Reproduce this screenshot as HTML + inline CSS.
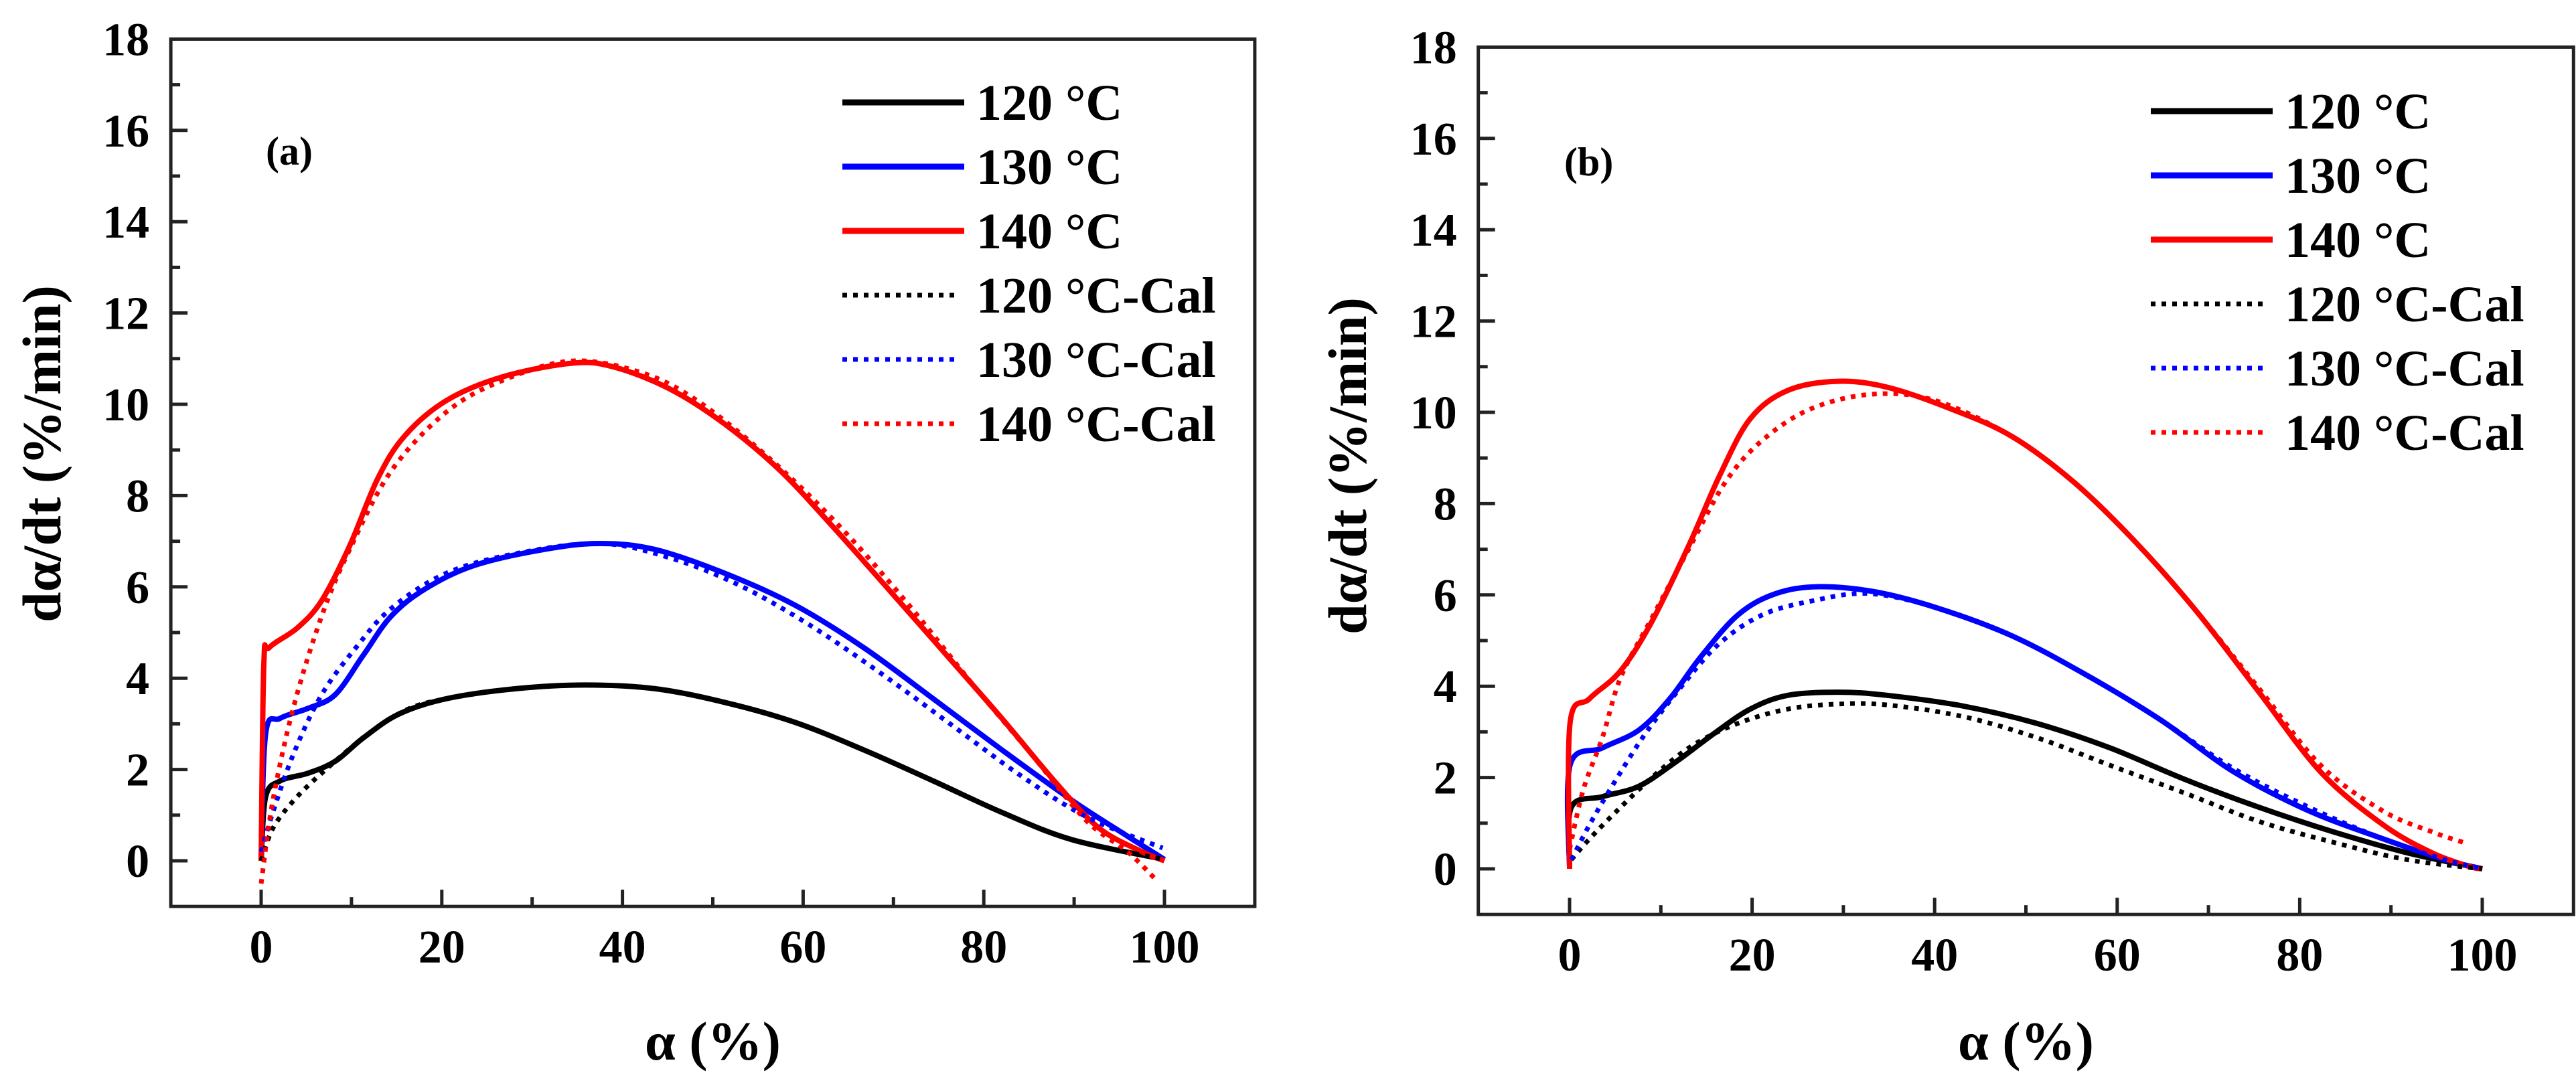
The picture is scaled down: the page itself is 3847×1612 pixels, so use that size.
<!DOCTYPE html>
<html><head><meta charset="utf-8"><style>
html,body{margin:0;padding:0;background:#fff;}
svg{display:block;}
text{font-family:"Liberation Serif",serif;font-weight:bold;fill:#000;}
</style></head><body>
<svg id="fig" width="3847" height="1612" viewBox="0 0 3847 1612" xmlns="http://www.w3.org/2000/svg"></svg>
<script>
// ---- data (panel a) ----
const a_120_x=[0,0.5,2.1,5.2,8.2,11.3,15.2,20.5,28.2,35.9,43.6,51.3,59,66.7,74.4,82,89.8,100];
const a_120_y=[0,1.4,1.75,1.92,2.18,2.69,3.21,3.55,3.77,3.85,3.77,3.47,3.04,2.43,1.75,1.06,0.46,0.03];
const a_130_x=[0,0.5,2.1,5.2,8.2,11.3,14.4,18.2,23.6,31.3,37.5,43.6,51.3,59,66.7,74.4,82,89.8,95.9,100];
const a_130_y=[0,2.78,3.12,3.34,3.64,4.5,5.36,5.96,6.47,6.82,6.95,6.82,6.3,5.61,4.67,3.55,2.43,1.32,0.54,0.03];
const a_140_x=[0,0.3,0.9,4,6.7,9.8,12.9,15.9,20.5,26.7,34.4,39,45.2,51.3,57.5,63.6,69.8,75.9,82,88.2,92.8,97.5,100];
const a_140_y=[0,4.3,4.67,5.1,5.7,6.9,8.37,9.31,10.08,10.6,10.9,10.82,10.34,9.57,8.54,7.25,5.87,4.5,3.12,1.66,0.71,0.2,0];
const a_120c_x=[0,1.3,3.6,6.7,11.3,15.9,20.5,28.2,35.9,43.6,51.3,59,66.7,74.4,82,89.8,100];
const a_120c_y=[0,0.71,1.32,1.92,2.69,3.29,3.55,3.77,3.85,3.77,3.47,3.04,2.43,1.75,1.06,0.46,0.03];
const a_130c_x=[0,1.3,3.6,6.7,10.5,14.4,20.5,28.2,37.5,45.2,52.9,60.6,68.3,76,83.7,91.3,99.8];
const a_130c_y=[0.2,1.06,2.35,3.64,4.67,5.53,6.3,6.73,6.95,6.64,6.04,5.18,4.15,3.04,1.92,0.97,0.28];
const a_140c_x=[0,1.3,3.6,6.7,9.8,14.4,20.5,26.7,34.4,42,48.2,55.9,63.6,71.3,79,85.2,91.3,95.9,99];
const a_140c_y=[-0.5,1.32,3.38,5.36,6.82,8.54,9.83,10.52,10.95,10.7,10.09,8.88,7.42,5.7,3.81,2.35,0.89,0.2,-0.4];
// ---- data (panel b) ----
const b_120_x=[0,0.2,3.6,7.6,11.7,15.8,19.8,23.9,29.4,34.8,43,51.1,59.2,67.4,75.5,83.7,91.8,100];
const b_120_y=[0,1.35,1.58,1.81,2.35,2.96,3.5,3.8,3.87,3.8,3.57,3.19,2.65,1.96,1.35,0.81,0.35,0];
const b_130_x=[0,0.05,3.6,7.6,11,14.4,18.5,22.6,27.3,33.4,40.2,48.4,56.5,64.7,72.8,81,89.1,95.9,100];
const b_130_y=[0,2.27,2.65,3.04,3.73,4.65,5.57,6.03,6.18,6.07,5.72,5.11,4.26,3.27,2.12,1.27,0.66,0.2,0];
const b_140_x=[0,0.05,2.2,5.6,9,13.1,16.5,19.8,23.9,29.4,34.8,41.6,48.4,55.2,61.9,68.7,75.5,82.3,89.1,94.5,98.6,100];
const b_140_y=[0,3.19,3.73,4.34,5.41,7.1,8.64,9.86,10.48,10.68,10.55,10.09,9.48,8.48,7.18,5.64,3.88,2.12,0.97,0.35,0.05,0];
const b_120c_x=[0.2,2.2,5.6,9.7,13.7,18.5,23.9,29.4,34.8,43,51.1,59.2,67.4,75.5,83.7,91.8,100];
const b_120c_y=[0.2,0.66,1.35,2.12,2.73,3.19,3.5,3.61,3.59,3.34,2.88,2.27,1.66,1.04,0.58,0.2,0];
const b_130c_x=[0.2,2.2,4.9,8.3,12.4,16.5,21.2,26.6,32.8,40.2,48.4,56.5,64.7,72.8,81,89.1,95.9,100];
const b_130c_y=[0.2,0.97,1.89,2.96,4.03,4.95,5.57,5.87,6.03,5.72,5.11,4.26,3.27,2.19,1.35,0.66,0.2,0];
const b_140c_x=[0,1.5,3.6,5.6,9,13.1,17.1,21.2,26.6,33.4,40.2,48.4,55.2,61.9,68.7,75.5,82.3,89.1,94.5,97.9];
const b_140c_y=[0.43,1.73,2.88,4.19,5.49,7.02,8.48,9.4,10.09,10.4,10.25,9.48,8.48,7.18,5.64,3.96,2.27,1.27,0.81,0.58];
const yTicks=[0,2,4,6,8,10,12,14,16,18];
const xTicks=[0,20,40,60,80,100];
const legendLabels=["120 °C","130 °C","140 °C","120 °C-Cal","130 °C-Cal","140 °C-Cal"];

const NS="http://www.w3.org/2000/svg";
const svg=document.getElementById('fig');
function mk(tag,attrs,parent){const e=document.createElementNS(NS,tag);for(const k in attrs)e.setAttribute(k,attrs[k]);(parent||svg).appendChild(e);return e;}
function smooth(pts){let d='M'+pts[0][0].toFixed(1)+','+pts[0][1].toFixed(1);
 for(let i=0;i<pts.length-1;i++){const p0=pts[Math.max(0,i-1)],p1=pts[i],p2=pts[i+1],p3=pts[Math.min(pts.length-1,i+2)];
  const c1=[p1[0]+(p2[0]-p0[0])/6,p1[1]+(p2[1]-p0[1])/6],c2=[p2[0]-(p3[0]-p1[0])/6,p2[1]-(p3[1]-p1[1])/6];
  d+=' C'+c1[0].toFixed(1)+','+c1[1].toFixed(1)+' '+c2[0].toFixed(1)+','+c2[1].toFixed(1)+' '+p2[0].toFixed(1)+','+p2[1].toFixed(1);}
 return d;}

function panel(P){
 const g=mk('g',{});
 
 
 const X=v=>P.x0+(P.x100-P.x0)*v/100;
 const Y=v=>P.y0-P.ppu*v;
 const L=X(-10),R=X(110),T=Y(18),B=Y(-1);
 // series
 const series=[[P.d[0],P.d[1],'#000',false,'series-120'],[P.d[2],P.d[3],'#0000ff',false,'series-130'],[P.d[4],P.d[5],'#ff0000',false,'series-140'],
  [P.d[6],P.d[7],'#000',true,'series-120-cal'],[P.d[8],P.d[9],'#0000ff',true,'series-130-cal'],[P.d[10],P.d[11],'#ff0000',true,'series-140-cal']];
 for(const s of series){
  const pts=s[0].map((x,i)=>[X(x),Y(s[1][i])]);
  const p=mk('path',{d:smooth(pts),fill:'none',stroke:s[2],'stroke-width':s[3]?7:8,'stroke-dasharray':s[3]?'7 9':'none','stroke-linejoin':'round'},g);
  
  
 }
 // frame
 const fr=mk('rect',{x:L,y:T,width:R-L,height:B-T,fill:'none',stroke:'#222','stroke-width':5},g);
 
 
 // y ticks
 for(let v=0;v<=17;v++){const y=Y(v);const maj=v%2===0;
  mk('line',{x1:L,x2:L+(maj?25:14),y1:y,y2:y,stroke:'#222','stroke-width':5},g);}
 for(const v of yTicks){const t=mk('text',{x:L-32,y:Y(v)+24,'text-anchor':'end','font-size':70},g);t.textContent=v;
  
  }
 // x ticks
 for(let v=0;v<=100;v+=10){const x=X(v);const maj=v%20===0;
  mk('line',{x1:x,x2:x,y1:B,y2:B-(maj?25:14),stroke:'#222','stroke-width':5},g);}
 for(const v of xTicks){const t=mk('text',{x:X(v),y:B+84,'text-anchor':'middle','font-size':70},g);t.textContent=v;
  
  }
 // axis titles
 const xt=mk('text',{x:X(50),y:1583,'text-anchor':'middle','font-size':82},g);xt.textContent='α (%)';
 
 
 const yt=mk('text',{x:0,y:0,'text-anchor':'middle','font-size':82,transform:'translate('+(P.ytx)+','+P.yty+') rotate(-90)'},g);yt.textContent='dα/dt (%/min)';
 
 
 // panel label
 const pl=mk('text',{x:P.lx,y:P.ly,'font-size':60},g);pl.textContent='('+P.id+')';
 
 
 // legend
 const cols=['#000','#0000ff','#ff0000','#000','#0000ff','#ff0000'];
 for(let i=0;i<6;i++){const y=P.legY+i*96;const dot=i>=3;
  const ln=mk('line',{x1:P.legX,x2:P.legX+(dot?172:182),y1:y,y2:y,stroke:cols[i],'stroke-width':dot?7:9,'stroke-dasharray':dot?'7 9':'none'},g);
  
  
  const t=mk('text',{x:P.legX+200,y:y+26,'font-size':76},g);t.textContent=legendLabels[i];
  
  
 }
}
panel({id:'a',x0:390,x100:1739,y0:1286,ppu:68.2,ytx:90,yty:678,lx:397,ly:246,legX:1258,legY:153,
 d:[a_120_x,a_120_y,a_130_x,a_130_y,a_140_x,a_140_y,a_120c_x,a_120c_y,a_130c_x,a_130c_y,a_140c_x,a_140c_y]});
panel({id:'b',x0:2344,x100:3707,y0:1298,ppu:68.2,ytx:2040,yty:696,lx:2336,ly:262,legX:3212,legY:166,
 d:[b_120_x,b_120_y,b_130_x,b_130_y,b_140_x,b_140_y,b_120c_x,b_120c_y,b_130c_x,b_130c_y,b_140c_x,b_140c_y]});
</script>
</body></html>
